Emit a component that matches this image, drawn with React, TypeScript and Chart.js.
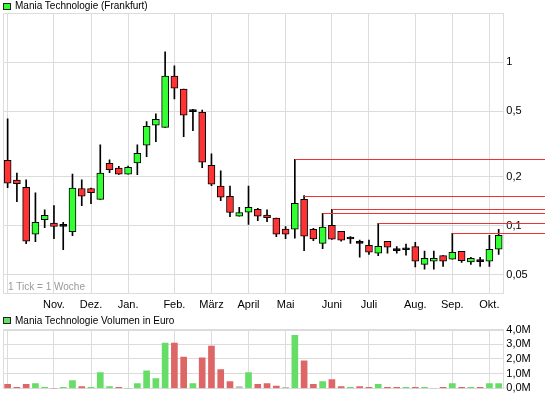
import React, { useEffect, useRef } from 'react';
import { Chart, registerables } from 'chart.js';

Chart.register(...registerables);

// ---- data (weekly candles, price in EUR, volume in million EUR) ----
const weeks = Array.from({ length: 54 }, (_, i) => 'W' + (i + 1));

const opens = [
  0.2516, 0.19, 0.172, 0.0887, 0.109, 0.104, 0.0992, 0.092, 0.169, 0.169,
  0.145, 0.241, 0.225, 0.2065, 0.242, 0.3108, 0.412, 0.4, 0.824, 0.684,
  0.499, 0.4945, 0.2344, 0.175, 0.1515, 0.1143, 0.121, 0.126, 0.1164, 0.1116,
  0.0956, 0.0952, 0.1452, 0.0952, 0.078, 0.1007, 0.0925, 0.083, 0.078, 0.076,
  0.0679, 0.0804, 0.0704, 0.0713, 0.0745, 0.0581, 0.0607, 0.0657, 0.0624, 0.0697,
  0.0601, 0.0604, 0.0607, 0.0718,
];
const highs = [
  0.45, 0.21, 0.191, 0.159, 0.125, 0.1327, 0.105, 0.207, 0.191, 0.17,
  0.312, 0.2527, 0.231, 0.232, 0.312, 0.433, 0.483, 1.156, 0.949, 0.684,
  0.516, 0.509, 0.275, 0.2164, 0.175, 0.1297, 0.175, 0.128, 0.125, 0.1116,
  0.0987, 0.255, 0.1528, 0.0965, 0.1193, 0.126, 0.0925, 0.0858, 0.0818, 0.0818,
  0.1035, 0.0804, 0.0745, 0.0774, 0.0792, 0.0701, 0.0701, 0.0657, 0.09, 0.0697,
  0.0642, 0.0642, 0.0875, 0.0952,
];
const lows = [
  0.171, 0.1404, 0.0777, 0.08, 0.0974, 0.0834, 0.0714, 0.087, 0.1327, 0.1365,
  0.145, 0.211, 0.206, 0.2065, 0.2054, 0.265, 0.327, 0.4, 0.596, 0.351,
  0.382, 0.2266, 0.176, 0.1424, 0.1137, 0.1143, 0.102, 0.1074, 0.106, 0.0858,
  0.0834, 0.0839, 0.0704, 0.081, 0.0724, 0.0825, 0.0804, 0.078, 0.0642, 0.0669,
  0.0657, 0.0679, 0.0679, 0.066, 0.056, 0.0542, 0.0542, 0.0565, 0.0624, 0.0597,
  0.0581, 0.0565, 0.0565, 0.0669,
];
const closes = [
  0.182, 0.181, 0.0804, 0.105, 0.116, 0.099, 0.0992, 0.17, 0.1515, 0.1594,
  0.2096, 0.2203, 0.2065, 0.228, 0.2776, 0.406, 0.448, 0.824, 0.693, 0.474,
  0.499, 0.2446, 0.1794, 0.1494, 0.1205, 0.1205, 0.1297, 0.1143, 0.112, 0.0887,
  0.0887, 0.1373, 0.0863, 0.083, 0.098, 0.0827, 0.0815, 0.083, 0.078, 0.0689,
  0.0749, 0.0739, 0.0704, 0.0713, 0.0607, 0.0633, 0.0633, 0.0607, 0.0689, 0.0612,
  0.0633, 0.0604, 0.0718, 0.0875,
];
const volumes = [
  0.27, 0.07, 0.27, 0.33, 0.07, 0, 0.07, 0.53, 0.13, 0.07,
  1.07, 0.13, 0.07, 0, 0.33, 1.2, 0.67, 3.07, 3.07, 2.13,
  0.33, 2.07, 2.87, 1.27, 0.47, 0.13, 1.07, 0.27, 0.33, 0.16,
  0.07, 3.6, 1.87, 0.27, 0.47, 0.6, 0.13, 0.07, 0.13, 0.07,
  0.27, 0.07, 0.07, 0.07, 0.07, 0.07, 0, 0.07, 0.33, 0.07,
  0.07, 0.07, 0.33, 0.33,
];

const monthWeeks = [0, 5, 9, 13, 18, 22, 26, 30, 35, 39, 44, 48, 52];
const monthLabels = ['', 'Nov.', 'Dez.', 'Jan.', 'Feb.', 'März', 'April', 'Mai', 'Juni', 'Juli', 'Aug.', 'Sep.', 'Okt.'];
const priceTicks = [0.05, 0.1, 0.2, 0.5, 1];
const volumeTicks = [0, 1, 2, 3, 4];
const resistanceWeeks = [31, 32, 34, 35, 40, 48];

// ---- styles ----
const GRID = '#dcdcdc';
const FONT = '"Liberation Sans", Arial, sans-serif';
const UP = '#33ff33';
const DOWN = '#ff3333';
const VOL_UP = '#66dd66';
const VOL_DOWN = '#dd6666';
const VOL_FLAT = '#bbbbbb';
const PLOT_RIGHT_AXIS = 41.7;

function xAxis(showLabels: boolean, height: number) {
  return {
    type: 'category',
    offset: true,
    grid: {
      offset: false,
      drawTicks: false,
      color: (c: any) => (monthWeeks.includes(c.index) ? GRID : 'rgba(0,0,0,0)'),
    },
    border: { display: true, color: GRID },
    ticks: {
      display: showLabels,
      autoSkip: false,
      maxRotation: 0,
      padding: 5,
      color: '#000',
      font: { size: 11, family: FONT },
      callback: (_v: any, i: number) => {
        const k = monthWeeks.indexOf(i);
        return k >= 0 ? monthLabels[k] : '';
      },
    },
    afterFit: (s: any) => {
      s.height = height;
    },
  };
}

const frame = (chart: any) => {
  const { ctx, chartArea: a } = chart;
  ctx.save();
  ctx.strokeStyle = GRID;
  ctx.lineWidth = 1;
  const l = Math.round(a.left) + 0.5;
  const t = Math.round(a.top) + 0.5;
  const r = Math.round(a.right) + 0.5;
  const b = Math.round(a.bottom) + 0.5;
  ctx.beginPath();
  ctx.moveTo(l, b);
  ctx.lineTo(l, t);
  ctx.lineTo(r, t);
  ctx.stroke();
  ctx.restore();
};

const priceDecor = {
  id: 'priceDecor',
  beforeDatasetsDraw(chart: any) {
    frame(chart);
    const { ctx, chartArea: a } = chart;
    ctx.save();
    ctx.fillStyle = '#9a9a9a';
    ctx.font = '10px ' + FONT;
    ctx.textBaseline = 'middle';
    ctx.fillText('1 Tick = 1 Woche', a.left + 5, a.bottom - 6);
    ctx.restore();
  },
  afterDraw(chart: any) {
    const { ctx, scales } = chart;
    ctx.save();
    ctx.strokeStyle = '#ee3333';
    ctx.lineWidth = 1;
    resistanceWeeks.forEach((w) => {
      const x = scales.x.getPixelForValue(w);
      const y = Math.round(scales.y.getPixelForValue(highs[w])) + 0.5;
      ctx.beginPath();
      ctx.moveTo(x, y);
      ctx.lineTo(chart.width, y);
      ctx.stroke();
    });
    ctx.restore();
  },
};

const volumeDecor = {
  id: 'volumeDecor',
  beforeDatasetsDraw(chart: any) {
    frame(chart);
  },
};

export default function App() {
  const priceRef = useRef<HTMLCanvasElement>(null);
  const volRef = useRef<HTMLCanvasElement>(null);

  useEffect(() => {
    document.body.style.margin = '0';
    const bodyColors = opens.map((o, i) => (closes[i] > o ? UP : closes[i] < o ? DOWN : '#000'));
    const volColors = volumes.map((_, i) => {
      const prev = i === 0 ? opens[0] : closes[i - 1];
      return closes[i] > prev ? VOL_UP : closes[i] < prev ? VOL_DOWN : VOL_FLAT;
    });

    const price = new Chart(priceRef.current!, {
      type: 'bar',
      data: {
        labels: weeks,
        datasets: [
          {
            label: 'wick',
            data: weeks.map((_, i) => [lows[i], highs[i]]) as any,
            backgroundColor: '#000',
            barThickness: 1,
            grouped: false,
            order: 2,
          } as any,
          {
            label: 'body',
            data: weeks.map((_, i) => [opens[i], closes[i]]) as any,
            backgroundColor: bodyColors,
            borderColor: '#000',
            borderWidth: 1,
            borderSkipped: false,
            barThickness: 7,
            minBarLength: 2,
            grouped: false,
            order: 1,
          } as any,
        ],
      },
      options: {
        responsive: false,
        animation: false,
        events: [],
        layout: { padding: { top: 13, left: 3, right: 0, bottom: 0 } },
        plugins: { legend: { display: false }, tooltip: { enabled: false } },
        scales: {
          x: xAxis(true, 19) as any,
          y: {
            type: 'logarithmic',
            position: 'right',
            min: 0.0388,
            max: 2,
            afterBuildTicks: (s: any) => {
              s.ticks = priceTicks.map((v) => ({ value: v }));
            },
            ticks: {
              autoSkip: false,
              padding: 3,
              color: '#000',
              font: { size: 11, family: FONT },
              callback: (v: any) => String(v).replace('.', ','),
            },
            grid: { drawTicks: false, color: GRID },
            border: { display: true, color: GRID },
            afterFit: (s: any) => {
              s.width = PLOT_RIGHT_AXIS;
            },
          } as any,
        },
      },
      plugins: [priceDecor],
    });

    const vol = new Chart(volRef.current!, {
      type: 'bar',
      data: {
        labels: weeks,
        datasets: [
          {
            label: 'Volumen',
            data: volumes,
            backgroundColor: volColors,
            barThickness: 6,
          },
        ],
      },
      options: {
        responsive: false,
        animation: false,
        events: [],
        layout: { padding: { top: 17.5, left: 3, right: 0, bottom: 8.7 } },
        plugins: { legend: { display: false }, tooltip: { enabled: false } },
        scales: {
          x: xAxis(false, 0) as any,
          y: {
            type: 'linear',
            position: 'right',
            min: 0,
            max: 4,
            afterBuildTicks: (s: any) => {
              s.ticks = volumeTicks.map((v) => ({ value: v }));
            },
            ticks: {
              autoSkip: false,
              padding: 3,
              color: '#000',
              font: { size: 11, family: FONT },
              callback: (v: any) => Number(v).toFixed(1).replace('.', ',') + 'M',
            },
            grid: { drawTicks: false, color: GRID },
            border: { display: true, color: GRID },
            afterFit: (s: any) => {
              s.width = PLOT_RIGHT_AXIS;
            },
          } as any,
        },
      },
      plugins: [volumeDecor],
    });

    return () => {
      price.destroy();
      vol.destroy();
    };
  }, []);

  const square = (top: number, color: string): React.CSSProperties => ({
    position: 'absolute',
    left: 3,
    top,
    width: 8,
    height: 7,
    boxSizing: 'border-box',
    border: '1px solid #222',
    background: color,
  });
  const legendText = (top: number): React.CSSProperties => ({
    position: 'absolute',
    left: 15,
    top,
    fontSize: 10,
    lineHeight: '12px',
    fontFamily: FONT,
    color: '#000',
    whiteSpace: 'nowrap',
  });

  return (
    <div style={{ position: 'relative', width: 545, height: 398, background: '#fff', overflow: 'hidden' }}>
      <canvas ref={priceRef} width={545} height={312} style={{ position: 'absolute', left: 0, top: 0 }} />
      <canvas ref={volRef} width={545} height={86} style={{ position: 'absolute', left: 0, top: 312 }} />
      <div style={square(3, UP)} />
      <div style={legendText(0)}>Mania Technologie (Frankfurt)</div>
      <div style={square(317, VOL_UP)} />
      <div style={legendText(315)}>Mania Technologie Volumen in Euro</div>
    </div>
  );
}
